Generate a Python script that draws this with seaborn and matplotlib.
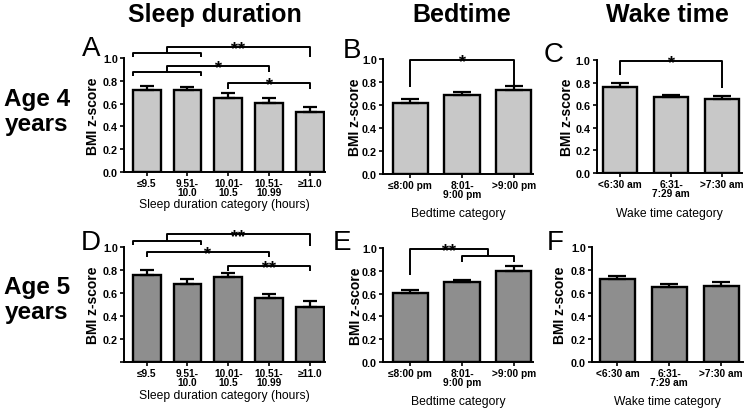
import numpy as np
import matplotlib
matplotlib.use("Agg")
import matplotlib.pyplot as plt
import seaborn as sns

# categories
sleep_cats = ["≤9.5", "9.51-\n10.0", "10.01-\n10.5", "10.51-\n10.99", "≥11.0"]
bed_cats = ["≤8:00 pm", "8:01-\n9:00 pm", ">9:00 pm"]
wake_cats = ["<6:30 am", "6:31-\n7:29 am", ">7:30 am"]

# BMI z-score means and SEM (upper half only)
sleep_age4 = [0.72, 0.715, 0.65, 0.605, 0.53]
sleep_age4_err = [0.037, 0.033, 0.04, 0.04, 0.043]
bed_age4 = [0.615, 0.69, 0.73]
bed_age4_err = [0.037, 0.025, 0.035]
wake_age4 = [0.76, 0.67, 0.655]
wake_age4_err = [0.038, 0.024, 0.03]

sleep_age5 = [0.755, 0.678, 0.735, 0.56, 0.475]
sleep_age5_err = [0.043, 0.04, 0.035, 0.033, 0.052]
bed_age5 = [0.602, 0.70, 0.797]
bed_age5_err = [0.03, 0.02, 0.043]
wake_age5 = [0.725, 0.648, 0.658]
wake_age5_err = [0.024, 0.026, 0.037]

# significance comparisons
# simple: (i, j, line height, left drop, right drop, label)
# group: (group, target, low height, low drop, top height, target drop, label, span from edges)
sig_A = [("group", (0, 1), 4, 1.047, 1.009, 1.10, 1.01, "**", True),
         ("group", (0, 1), 3, 0.88, 0.839, 0.934, 0.88, "*", True),
         ("simple", 2, 4, 0.779, 0.73, 0.73, "*")]
sig_B = [("simple", 0, 2, 0.99, 0.76, 0.76, "*")]
sig_C = [("simple", 0, 2, 0.994, 0.87, 0.75, "*")]
sig_D = [("group", (0, 1), 4, 1.053, 1.015, 1.109, 1.01, "**", True),
         ("simple", 0, 3, 0.956, 0.912, 0.912, "*"),
         ("simple", 2, 4, 0.832, 0.788, 0.788, "**")]
sig_E = [("group", (1, 2), 0, 0.932, 0.88, 0.995, 0.765, "**", False)]
sig_F = []

light = "#c8c8c8"
dark = "#8e8e8e"
BW = 0.68

sns.set_style("ticks")
plt.rcParams["font.family"] = ["Liberation Sans", "DejaVu Sans"]
for key in ["text.color", "axes.labelcolor", "xtick.color", "ytick.color", "axes.edgecolor"]:
    plt.rcParams[key] = "black"

fig = plt.figure(figsize=(7.5, 4.1), dpi=100)
W, H = 750.0, 410.0


def add_ax(x0, x1, ytop, ybot):
    return fig.add_axes([x0 / W, 1 - ybot / H, (x1 - x0) / W, (ybot - ytop) / H])


def star(ax, x, y, label):
    ax.annotate(label, xy=(x, y), xytext=(0, -4.5), textcoords="offset points",
                ha="center", va="baseline", fontsize=13, fontweight="bold",
                annotation_clip=False)


def draw_sig(ax, specs):
    kw = dict(color="black", lw=1.4, clip_on=False, solid_capstyle="butt")
    for s in specs:
        if s[0] == "simple":
            _, i, j, h, di, dj, lab = s
            ax.plot([i, i, j, j], [di, h, h, dj], **kw)
            star(ax, (i + j) / 2, h, lab)
        else:
            _, grp, tgt, h1, d1, h2, d2, lab, edges = s
            off = BW / 2 if edges else 0
            gl, gr = grp[0] - off, grp[1] + off
            ax.plot([gl, gl, gr, gr], [d1, h1, h1, d1], **kw)
            mid = (gl + gr) / 2
            ax.plot([mid, mid, tgt, tgt], [h1, h2, h2, d2], **kw)
            star(ax, (mid + tgt) / 2, h2, lab)


def panel(ax, cats, vals, errs, color, xlim, sigs, xlabel, capsize, show_zero=True):
    sns.barplot(x=cats, y=vals, color=color, saturation=1, width=BW,
                edgecolor="black", linewidth=1.7, errorbar=None, ax=ax, zorder=2)
    ax.errorbar(np.arange(len(vals)), vals, yerr=[np.zeros(len(vals)), errs],
                fmt="none", ecolor="black", elinewidth=1.6, capsize=capsize,
                capthick=1.6, zorder=3)
    ax.set_xlim(*xlim)
    ax.set_ylim(0, 1.0)
    ax.set_yticks([0, 0.2, 0.4, 0.6, 0.8, 1.0])
    ylabels = ["0.0", "0.2", "0.4", "0.6", "0.8", "1.0"]
    if not show_zero:
        ylabels[0] = ""
    ax.set_yticklabels(ylabels)
    sns.despine(ax=ax)
    for sp in ["left", "bottom"]:
        ax.spines[sp].set_linewidth(1.4)
    ax.tick_params(axis="y", length=3, width=1.2, pad=1.5, labelsize=7.8)
    ax.tick_params(axis="x", length=3, width=1.2, pad=1.5, labelsize=7.3)
    for t in ax.get_yticklabels() + ax.get_xticklabels():
        t.set_fontweight("bold")
    for t in ax.get_xticklabels():
        t.set_linespacing(0.82)
    ax.set_ylabel("BMI z-score", fontsize=10, fontweight="bold")
    ax.set_xlabel(xlabel, fontsize=8.7)
    draw_sig(ax, sigs)
    return ax


axA = add_ax(124, 325, 59, 173)
panel(axA, sleep_cats, sleep_age4, sleep_age4_err, light, (-0.556, 4.37), sig_A,
      "Sleep duration category (hours)", 5)
axB = add_ax(383, 533, 60, 175)
panel(axB, bed_cats, bed_age4, bed_age4_err, light, (-0.527, 2.37), sig_B,
      "Bedtime category", 6.5)
axC = add_ax(597, 742, 61, 174)
panel(axC, wake_cats, wake_age4, wake_age4_err, light, (-0.45, 2.39), sig_C,
      "Wake time category", 6.5)
axD = add_ax(124, 325, 248, 363)
panel(axD, sleep_cats, sleep_age5, sleep_age5_err, dark, (-0.556, 4.37), sig_D,
      "Sleep duration category (hours)", 5, show_zero=False)
axE = add_ax(383, 533, 249, 363)
panel(axE, bed_cats, bed_age5, bed_age5_err, dark, (-0.527, 2.37), sig_E,
      "Bedtime category", 6.5)
axF = add_ax(592, 743, 248, 363)
panel(axF, wake_cats, wake_age5, wake_age5_err, dark, (-0.49, 2.42), sig_F,
      "Wake time category", 6.5)

# label placement (pixel positions)
axes_info = [(axA, 93, 205, 124, 325, 59, 173), (axB, 355, 214, 383, 533, 60, 175),
             (axC, 567, 214, 597, 742, 61, 174), (axD, 93, 396, 124, 325, 248, 363),
             (axE, 356, 402, 383, 533, 249, 363), (axF, 560, 402, 592, 743, 248, 363)]
for ax, ylx, xly, x0, x1, yt, yb in axes_info:
    ax.yaxis.set_label_coords((ylx - x0) / (x1 - x0), 0.5)
    ax.yaxis.label.set_va("center")
    ax.xaxis.set_label_coords(0.5, (yb - xly) / (yb - yt))
    ax.xaxis.label.set_va("center")

# column and row titles
for txt, x in [("Sleep duration", 215), ("Bedtime", 462), ("Wake time", 667)]:
    fig.text(x / W, 1 - 22 / H, txt, ha="center", va="baseline",
             fontsize=18, fontweight="bold")
for txt, y in [("Age 4\nyears", 112), ("Age 5\nyears", 300)]:
    fig.text(37 / W, 1 - y / H, txt, ha="center", va="center",
             fontsize=17.5, fontweight="bold", linespacing=1.1)

# panel letters
for lab, x, y in [("A", 82, 56), ("B", 343, 58), ("C", 544, 62),
                  ("D", 81, 250), ("E", 333, 250), ("F", 547, 250)]:
    fig.text(x / W, 1 - y / H, lab, ha="left", va="baseline", fontsize=20)

fig.savefig("out.png", dpi=100)
